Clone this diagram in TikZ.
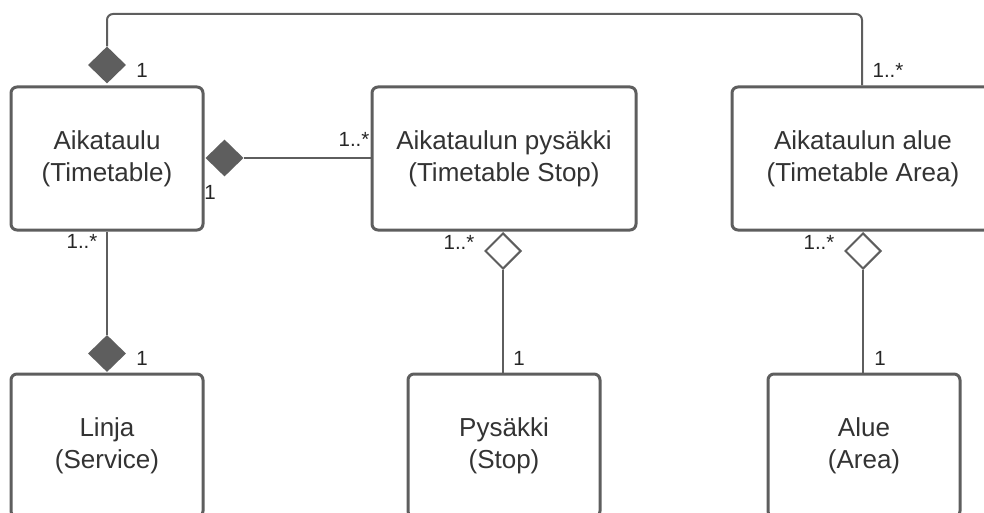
\documentclass[tikz,border=0pt]{standalone}
\usepackage{fontspec}
\setmainfont{Liberation Sans}
\usetikzlibrary{shapes.geometric}
\definecolor{linegray}{HTML}{5E5E5E}
\definecolor{textgray}{HTML}{333333}
\begin{document}
\begin{tikzpicture}[x=1pt,y=-1pt,
  classbox/.style={draw=linegray, line width=3pt, rounded corners=6pt, fill=white,
    align=center, text=textgray, inner sep=0pt,
    font=\fontsize{26}{32}\selectfont},
  conn/.style={draw=linegray, line width=2pt},
  fdiam/.style={diamond, aspect=1, inner sep=0pt, minimum width=38pt, minimum height=37pt,
    fill=linegray, draw=none},
  hdiam/.style={diamond, aspect=1, inner sep=0pt, minimum width=36pt, minimum height=36pt,
    fill=white, draw=linegray, line width=2pt},
  mult/.style={text=black!85, inner sep=0pt, font=\fontsize{20.5}{24}\selectfont}
]
\useasboundingbox (0,0) rectangle (984,513);
\clip (0,0) rectangle (984,513);
\fill[white] (0,0) rectangle (984,513);

% classes
\node[classbox, minimum width=192pt, minimum height=143pt] (tt) at (107,158.5) {Aikataulu\\(Timetable)};
\node[classbox, minimum width=264pt, minimum height=143pt] (ts) at (504,158.5) {Aikataulun pysäkki\\(Timetable Stop)};
\node[classbox, minimum width=262pt, minimum height=143pt] (ta) at (863,158.5) {Aikataulun alue\\(Timetable Area)};
\node[classbox, minimum width=192pt, minimum height=143pt] (sv) at (107,445.5) {Linja\\(Service)};
\node[classbox, minimum width=192pt, minimum height=143pt] (st) at (504,445.5) {Pysäkki\\(Stop)};
\node[classbox, minimum width=192pt, minimum height=143pt] (ar) at (864,445.5) {Alue\\(Area)};

% diamonds
\node[fdiam] (d1) at (107,65) {};
\node[fdiam] (d2) at (224.5,158) {};
\node[fdiam] (d3) at (107,353.5) {};
\node[hdiam] (d4) at (503,251) {};
\node[hdiam] (d5) at (863,251) {};

% corner coordinates of the top connector
\coordinate (c1) at (107,14);
\coordinate (c2) at (862,14);

% connectors
\draw[conn, rounded corners=6pt] (d1.north) -- (c1) -- (c2) -- (c2 |- ta.north);
\draw[conn] (d2.east) -- (ts.west |- d2.east);
\draw[conn] (tt.south) -- (d3.north);
\draw[conn] (d4.south) -- (st.north -| d4.south);
\draw[conn] (d5.south) -- (ar.north -| d5.south);

% multiplicities
\node[mult] (m1) at (142,70) {1};
\node[mult] (m2) at (888,70) {1..*};
\node[mult] (m3) at (354,139) {1..*};
\node[mult] (m4) at (210,192) {1};
\node[mult] (m5) at (82,241) {1..*};
\node[mult] (m6) at (142,358) {1};
\node[mult] (m7) at (459,242) {1..*};
\node[mult] (m8) at (519,358) {1};
\node[mult] (m9) at (819,242) {1..*};
\node[mult] (m10) at (880,358) {1};
\end{tikzpicture}
\end{document}
